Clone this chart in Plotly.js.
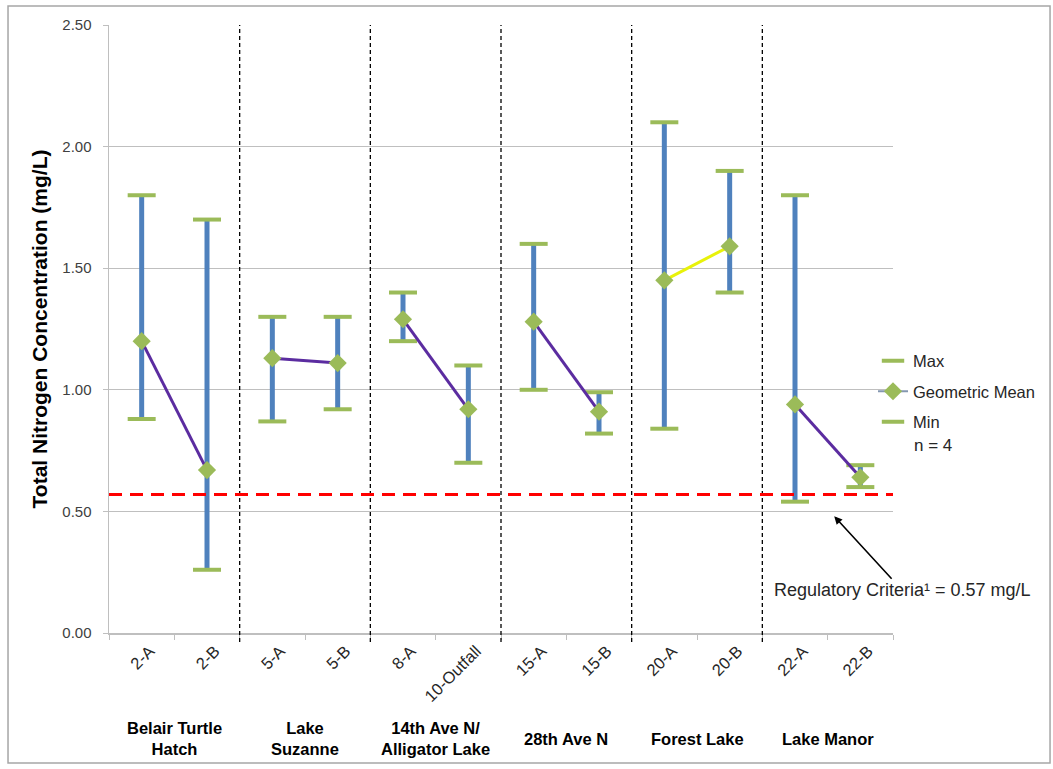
<!DOCTYPE html>
<html>
<head>
<meta charset="utf-8">
<script src="https://cdn.plot.ly/plotly-3.0.1.min.js"></script>
<style>
  html, body { margin: 0; padding: 0; background: #ffffff; }
  #chart { width: 1053px; height: 769px; }
</style>
</head>
<body>
<div id="chart"></div>
<script>
// Sampling stations, in plotting order
const stations = ['2-A', '2-B', '5-A', '5-B', '8-A', '10-Outfall',
                  '15-A', '15-B', '20-A', '20-B', '22-A', '22-B'];

// Total nitrogen (mg/L), n = 4 samples per station
const maxTN  = [1.80, 1.70, 1.30, 1.30, 1.40, 1.10, 1.60, 0.99, 2.10, 1.90, 1.80, 0.69];
const geoMean = [1.20, 0.67, 1.13, 1.11, 1.29, 0.92, 1.28, 0.91, 1.45, 1.59, 0.94, 0.64];
const minTN  = [0.88, 0.26, 0.87, 0.92, 1.20, 0.70, 1.00, 0.82, 0.84, 1.40, 0.54, 0.60];

// Site groups (two stations each) and the colour of the line joining their means
const groups = ['Belair Turtle<br>Hatch', 'Lake<br>Suzanne', '14th Ave N/<br>Alligator Lake',
                '28th Ave N', 'Forest Lake', 'Lake Manor'];
const groupLineColors = ['#5b2ca0', '#5b2ca0', '#5b2ca0', '#5b2ca0', '#e8f20a', '#5b2ca0'];

const sampleCount = 4;
const criterion = 0.57;

const BLUE = '#4f81bd';
const GREEN = '#9bbb59';
const FONT = 'Liberation Sans, Arial, sans-serif';

const traces = [];

// Min-to-max range bars
traces.push({
  x: stations, y: geoMean, type: 'scatter', mode: 'markers',
  marker: { size: 1, opacity: 0 },
  error_y: {
    type: 'data', symmetric: false,
    array: maxTN.map((v, i) => v - geoMean[i]),
    arrayminus: geoMean.map((v, i) => v - minTN[i]),
    color: BLUE, thickness: 5, width: 0
  },
  showlegend: false, hoverinfo: 'skip'
});

// Caps
const capMarker = { symbol: 'line-ew', size: 20, color: GREEN, line: { color: GREEN, width: 4 } };
traces.push({
  x: stations, y: maxTN, name: 'Max', type: 'scatter', mode: 'markers',
  marker: capMarker, legendgroup: 'max', legendrank: 1
});
traces.push({
  x: stations, y: minTN, name: 'Min', type: 'scatter', mode: 'markers',
  marker: capMarker, legendgroup: 'min', legendrank: 3
});

// Lines joining the geometric means within each site
groups.forEach((g, k) => {
  const i = 2 * k;
  traces.push({
    x: stations.slice(i, i + 2), y: geoMean.slice(i, i + 2),
    type: 'scatter', mode: 'lines',
    line: { color: groupLineColors[k], width: 3 },
    showlegend: false, hoverinfo: 'skip'
  });
});

// Geometric means (points separated by gaps so no line is drawn between them)
const gmX = [], gmY = [];
stations.forEach((s, i) => { gmX.push(s, null); gmY.push(geoMean[i], null); });
traces.push({
  x: gmX, y: gmY, name: 'Geometric Mean', type: 'scatter', mode: 'lines+markers',
  connectgaps: false,
  line: { color: '#8497b0', width: 2 },
  marker: { symbol: 'diamond', size: 14, color: GREEN, line: { width: 0 } },
  legendgroup: 'gm', legendrank: 2
});

// Dashed separators between sites
const shapes = [];
for (let k = 1; k < groups.length; k++) {
  shapes.push({
    type: 'line', xref: 'x domain', yref: 'paper',
    x0: (2 * k) / stations.length, x1: (2 * k) / stations.length,
    y0: -0.015, y1: 1,
    line: { color: '#000000', width: 1.3, dash: '4px,3px' }
  });
}
// Regulatory criterion
shapes.push({
  type: 'line', xref: 'paper', yref: 'y', x0: 0, x1: 1, y0: criterion, y1: criterion,
  line: { color: '#ff0000', width: 3, dash: '13px,8px' }
});
// Outer frame
shapes.push({
  type: 'rect', xref: 'paper', yref: 'paper',
  x0: -0.1288, x1: 1.2003, y0: -0.2138, y1: 1.0312,
  line: { color: '#a6a6a6', width: 1.5 }
});

const annotations = groups.map((g, k) => ({
  xref: 'x domain', yref: 'paper',
  x: (2 * k + 1) / stations.length, y: -0.174,
  text: '<b>' + g + '</b>', showarrow: false,
  xanchor: 'center', yanchor: 'middle',
  font: { family: FONT, size: 16.5, color: '#000000' }
}));

annotations.push({
  xref: 'paper', yref: 'paper', x: 1.0242, y: 0.3076,
  text: 'n = ' + sampleCount, showarrow: false,
  xanchor: 'left', yanchor: 'middle',
  font: { family: FONT, size: 17, color: '#262626' }
});

annotations.push({
  xref: 'x', yref: 'y', x: 10.6, y: 0.48,
  text: 'Regulatory Criteria¹ = ' + criterion.toFixed(2) + ' mg/L',
  showarrow: true, ax: 68, ay: 74,
  arrowhead: 2, arrowsize: 1, arrowwidth: 1.6, arrowcolor: '#000000',
  font: { family: FONT, size: 18, color: '#262626' }
});

const layout = {
  width: 1053, height: 769,
  margin: { l: 109, r: 160, t: 25, b: 136 },
  paper_bgcolor: '#ffffff', plot_bgcolor: '#ffffff',
  font: { family: FONT, size: 14, color: '#404040' },
  showlegend: true,
  legend: {
    x: 0.9745, y: 0.476, xanchor: 'left', yanchor: 'top',
    bgcolor: 'rgba(0,0,0,0)', traceorder: 'grouped', tracegroupgap: 6,
    font: { family: FONT, size: 16.5, color: '#262626' }
  },
  xaxis: {
    type: 'category', range: [-0.5, stations.length - 0.5],
    showgrid: false, showline: true, linecolor: '#bfbfbf', linewidth: 2,
    ticks: 'outside', tickson: 'boundaries', ticklen: 5, tickcolor: '#bfbfbf',
    tickangle: -45, ticklabelshift: 8,
    tickfont: { family: FONT, size: 16.5, color: '#262626' },
    zeroline: false
  },
  yaxis: {
    range: [0, 2.5], dtick: 0.5, tickformat: '.2f',
    showgrid: true, gridcolor: '#bfbfbf', gridwidth: 1,
    showline: true, linecolor: '#bfbfbf', linewidth: 1.5,
    ticks: 'outside', ticklen: 5, tickcolor: '#bfbfbf',
    ticklabelstandoff: 8,
    tickfont: { family: FONT, size: 15, color: '#404040' },
    zeroline: false,
    title: { text: '<b>Total Nitrogen Concentration (mg/L)</b>', standoff: 9,
             font: { family: FONT, size: 21, color: '#000000' } }
  },
  shapes: shapes,
  annotations: annotations
};

Plotly.newPlot('chart', traces, layout, { displayModeBar: false, staticPlot: true });
</script>
</body>
</html>
